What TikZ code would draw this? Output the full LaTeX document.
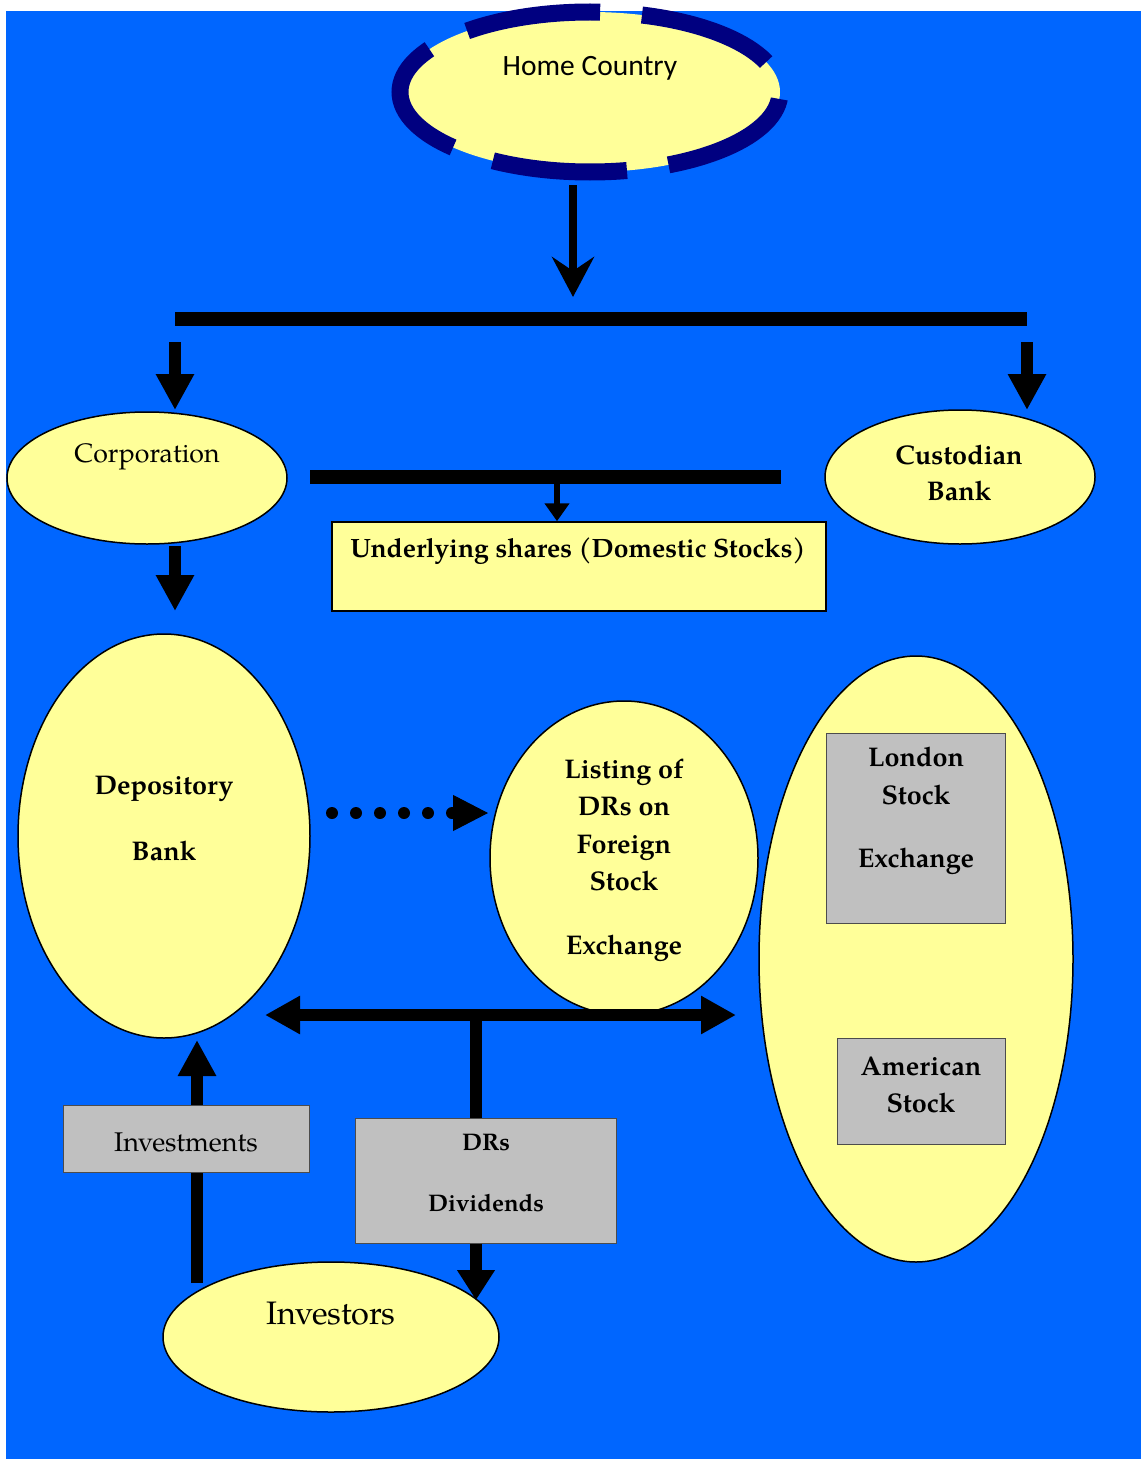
\documentclass[tikz,border=0pt]{standalone}
\usepackage{fontspec}
\setmainfont{TeX Gyre Pagella}
\newfontfamily\hcfont{Carlito}
\usetikzlibrary{shapes.geometric,arrows.meta}
\definecolor{bgblue}{HTML}{0066FF}
\definecolor{yel}{HTML}{FFFF99}
\definecolor{navy}{HTML}{000080}
\definecolor{boxgray}{HTML}{C0C0C0}
\tikzset{
  yelell/.style={ellipse, fill=yel, draw=black, line width=1.5pt, inner sep=0pt},
  graybox/.style={rectangle, fill=boxgray, draw=black!70, line width=1pt, inner sep=0pt},
  yelbox/.style={rectangle, fill=yel, draw=black, line width=1.5pt, inner sep=0pt},
  lbl/.style={inner sep=0pt, align=center, font=\fontsize{27}{37.5}\selectfont\bfseries},
  lblr/.style={inner sep=0pt, align=center, font=\fontsize{26.7}{37}\selectfont},
  thickarr/.style={line width=12pt, -{Triangle[width=36pt,length=36pt]}},
  bar/.style={line width=14pt}
}
\begin{document}
\begin{tikzpicture}[x=1pt,y=-1pt]
\useasboundingbox (0,0) rectangle (1141,1461);
\fill[white] (0,0) rectangle (1141,1461);
\fill[bgblue] (6,11) rectangle (1141,1459);

% Home country
\node[ellipse, fill=yel, inner sep=0pt, minimum width=380pt, minimum height=160pt] (hc) at (590,92) {};
\draw[navy, line width=17pt, dash pattern=on 135pt off 42pt, dash phase=170pt] (hc.center) ellipse [x radius=190, y radius=80];
\node[inner sep=0pt, font=\hcfont\fontsize{29.5}{32}\selectfont] (hct) at (590,68) {Home Country};

% top arrow and bar
\coordinate (a0) at (573,185);
\coordinate (a1) at (573,297);
\draw[line width=8pt, -{Stealth[length=40pt,width=42pt,inset=14pt]}] (a0) -- (a1);
\coordinate (b1L) at (175,319);
\coordinate (b1R) at (1027,319);
\draw[bar] (b1L) -- (b1R);
\coordinate (l0) at (175,342);
\coordinate (l1) at (175,410);
\coordinate (r0) at (1027,342);
\coordinate (r1) at (1027,410);
\draw[thickarr] (l0) -- (l1);
\draw[thickarr] (r0) -- (r1);

% Corporation, Custodian bank
\node[yelell, minimum width=280pt, minimum height=132pt] (corp) at (147,478) {};
\node[lblr] (corpt) at (147,457) {Corporation};
\node[yelell, minimum width=270pt, minimum height=134pt] (cust) at (960,477) {};
\node[lbl, font=\fontsize{27}{36}\selectfont\bfseries] (custt) at (959,473) {Custodian\\Bank};

% second bar and underlying shares
\coordinate (b2L) at (310,477);
\coordinate (b2R) at (781,477);
\draw[bar] (b2L) -- (b2R);
\coordinate (s0) at (557,484);
\node[yelbox, minimum width=494pt, minimum height=89pt] (und) at (579,566.5) {};
\draw[line width=6pt, -{Triangle[width=24pt,length=18pt]}] (s0) -- (und.north -| s0);
\node[lbl, font=\fontsize{26.5}{30}\selectfont\bfseries] (undt) at (578,551) {Underlying shares (Domestic Stocks)};

% corp to depository
\coordinate (c0) at (175,546);
\coordinate (c1) at (175,611);
\draw[thickarr] (c0) -- (c1);

% Depository bank
\node[yelell, minimum width=292pt, minimum height=404pt] (dep) at (164,836) {};
\node[lbl, font=\fontsize{27}{33}\selectfont\bfseries] (dept) at (164,819) {Depository\\[33pt]Bank};

% dotted arrow
\coordinate (d0) at (332,813);
\coordinate (d1) at (452,813);
\coordinate (d2) at (488,813);
\draw[line width=12pt, line cap=round, dash pattern=on 0pt off 24pt] (d0) -- (d1);
\draw[line width=1pt, -{Triangle[width=36pt,length=35pt]}] (d1) -- (d2);

% Listing
\node[yelell, minimum width=268pt, minimum height=314pt] (list) at (624,858) {};
\node[lbl] (listt) at (624,860) {Listing of\\DRs on\\Foreign\\Stock\\[26pt]Exchange};

% right big ellipse and boxes
\node[yelell, minimum width=314pt, minimum height=606pt] (big) at (916,959) {};
\node[graybox, minimum width=179pt, minimum height=190pt] (lon) at (915.5,828) {};
\node[lbl] (lont) at (916,811) {London\\Stock\\[26pt]Exchange};
\node[graybox, minimum width=168pt, minimum height=106pt] (ame) at (921,1091) {};
\node[lbl] (amet) at (921,1085) {American\\Stock};

% double arrow
\coordinate (h0) at (265,1015);
\coordinate (h1) at (736,1015);
\coordinate (hm) at (476,1015);
\draw[line width=12pt, {Triangle[width=36pt,length=35pt]}-{Triangle[width=36pt,length=35pt]}] (h0) -- (h1);

% DRs dividends
\node[graybox, minimum width=261pt, minimum height=125pt] (drs) at (485.5,1180.5) {};
\draw[line width=12pt] ([yshift=6pt]hm) -- (drs.north -| hm);
\node[lbl, font=\fontsize{24}{30}\selectfont\bfseries] (drst) at (486,1143) {DRs};
\node[lbl, font=\fontsize{24}{30}\selectfont\bfseries] (divt) at (486,1203) {Dividends};

% Investors
\node[yelell, minimum width=336pt, minimum height=150pt] (inv) at (331,1337) {};
\node[inner sep=0pt, font=\fontsize{32.5}{36}\selectfont] (invt) at (331,1314) {Investors};
\coordinate (v1) at (476,1300);
\draw[line width=12pt, -{Triangle[width=36pt,length=30pt]}] (drs.south -| v1) -- (v1);

% investments
\coordinate (u0) at (197,1283);
\coordinate (u1) at (197,1040);
\draw[thickarr] (u0) -- (u1);
\node[graybox, minimum width=246pt, minimum height=67pt] (invs) at (186,1138.5) {};
\node[lblr, font=\fontsize{27}{30}\selectfont] (invst) at (186,1142) {Investments};
\end{tikzpicture}
\end{document}
